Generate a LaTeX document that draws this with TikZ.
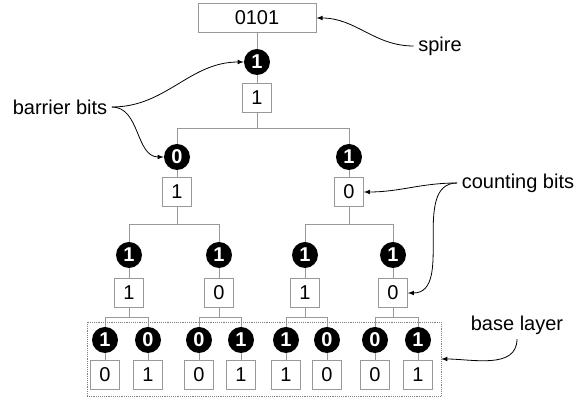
\documentclass[tikz,border=0pt]{standalone}
\usepackage{fontspec}
\setmainfont{Liberation Sans}
\usepackage{tikz}
\tikzset{>=latex}
\tikzset{
  bitbox/.style={draw=gray!80, line width=0.75pt, minimum width=21.5pt, minimum height=21.5pt, inner sep=0pt, font=\fontsize{15}{18}\selectfont},
  barbit/.style={circle, fill=black, text=white, minimum size=19.5pt, inner sep=0pt, font=\bfseries\fontsize{15}{18}\selectfont},
  branch/.style={draw=gray!80, line width=0.75pt},
  callout/.style={font=\fontsize{15}{18}\selectfont},
  pointer/.style={->, semithick}
}

\begin{document}
\begin{tikzpicture}[x=0.75pt, y=0.75pt]
    \useasboundingbox (0, 0) rectangle (576, -398);
    % spire and root
    \node[bitbox, minimum width=88.5pt](s)at(257, -18){0101};
    \node[barbit](r1)at(257, -62){1};
    \node[bitbox](c1)at(257, -98){1};
    % second layer
    \node[barbit](r2)at(177, -157){0};
    \node[bitbox](c2)at(177, -192){1};
    \node[barbit](r3)at(349, -157){1};
    \node[bitbox](c3)at(349, -192){0};
    % third layer
    \node[barbit](r4)at(129, -255){1};
    \node[bitbox](c4)at(129, -293){1};
    \node[barbit](r5)at(219, -255){1};
    \node[bitbox](c5)at(219, -293){0};
    \node[barbit](r6)at(305, -255){1};
    \node[bitbox](c6)at(305, -293){1};
    \node[barbit](r7)at(393, -255){1};
    \node[bitbox](c7)at(393, -293){0};
    % base layer
    \node[draw=gray, densely dotted, minimum width=265.5pt, minimum height=55.5pt](base)at(264, -359){};
    \node[barbit](r8)at(105, -340){1};   \node[bitbox](c8)at(105, -375){0};
    \node[barbit](r9)at(148, -340){0};   \node[bitbox](c9)at(148, -375){1};
    \node[barbit](r10)at(199, -340){0};  \node[bitbox](c10)at(199, -375){0};
    \node[barbit](r11)at(241, -340){1};  \node[bitbox](c11)at(241, -375){1};
    \node[barbit](r12)at(286, -340){1};  \node[bitbox](c12)at(286, -375){1};
    \node[barbit](r13)at(327, -340){0};  \node[bitbox](c13)at(327, -375){0};
    \node[barbit](r14)at(375, -340){0};  \node[bitbox](c14)at(375, -375){0};
    \node[barbit](r15)at(418, -340){1};  \node[bitbox](c15)at(418, -375){1};
    % branches
    \draw[branch](s)--(r1)--(c1);
    \draw[branch](c1.south)--++(0, -16)-|(r2);
    \draw[branch](c1.south)++(0, -16)-|(r3);
    \draw[branch](r2)--(c2);
    \draw[branch](r3)--(c3);
    \draw[branch](c2.south)--++(0, -18)-|(r4);
    \draw[branch](c2.south)++(0, -18)-|(r5);
    \draw[branch](c3.south)--++(0, -18)-|(r6);
    \draw[branch](c3.south)++(0, -18)-|(r7);
    \draw[branch](r4)--(c4);
    \draw[branch](r5)--(c5);
    \draw[branch](r6)--(c6);
    \draw[branch](r7)--(c7);
    \draw[branch](c4.south)--++(0, -9.5)-|(r8);
    \draw[branch](c4.south)++(0, -9.5)-|(r9);
    \draw[branch](c5.south)--++(0, -9.5)-|(r10);
    \draw[branch](c5.south)++(0, -9.5)-|(r11);
    \draw[branch](c6.south)--++(0, -9.5)-|(r12);
    \draw[branch](c6.south)++(0, -9.5)-|(r13);
    \draw[branch](c7.south)--++(0, -9.5)-|(r14);
    \draw[branch](c7.south)++(0, -9.5)-|(r15);
    \foreach \i in {8, ..., 15}{\draw[branch](r\i)--(c\i);}
    % labels
    \node[callout](spirelbl)at(440, -46){spire};
    \node[callout](barlbl)at(60, -107){barrier bits};
    \node[callout](cntlbl)at(518, -183){counting bits};
    \node[callout](baselbl)at(517, -325){base layer};
    \draw[pointer](spirelbl.west)to[out=180, in=0](s.east);
    \draw[pointer](barlbl.east)to[out=0, in=180](r1.west);
    \draw[pointer](barlbl.east)to[out=0, in=180](r2.west);
    \draw[pointer](cntlbl.west)to[out=180, in=0](c3.east);
    \draw[pointer](cntlbl.west)to[out=180, in=0](c7.east);
    \draw[pointer](baselbl.south)to[out=-90, in=0](base.east);
\end{tikzpicture}
\end{document}
